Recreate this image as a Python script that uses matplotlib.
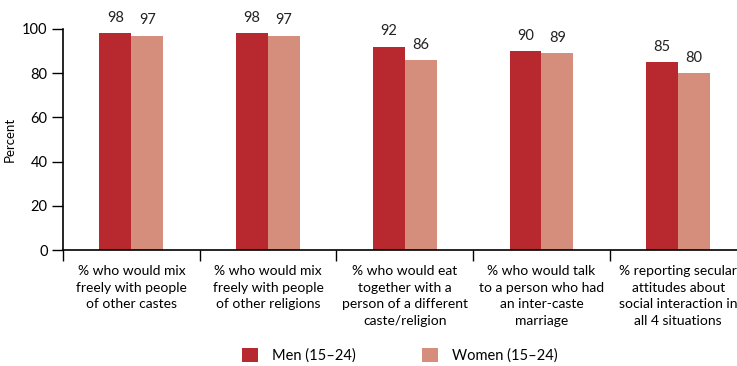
import numpy as np
import matplotlib.pyplot as plt

# Datos del grafico
categorias = [
    "% who would mix\nfreely with people\nof other castes",
    "% who would mix\nfreely with people\nof other religions",
    "% who would eat\ntogether with a\nperson of a different\ncaste/religion",
    "% who would talk\nto a person who had\nan inter-caste\nmarriage",
    "% reporting secular\nattitudes about\nsocial interaction in\nall 4 situations",
]
hombres = [98, 98, 92, 90, 85]
mujeres = [97, 97, 86, 89, 80]
yticks = [0, 20, 40, 60, 80, 100]

color_h = '#B8282F'
color_m = '#D68E7C'

plt.rcParams['font.family'] = ['Lato', 'DejaVu Sans']

fig = plt.figure(figsize=(7.37, 3.66), dpi=100)
ax = fig.add_axes([63 / 737, 1 - 250 / 366, 1 - 63 / 737, (250 - 29) / 366])

x = np.arange(len(categorias))
w = 0.234
b1 = ax.bar(x - w / 2, hombres, w, color=color_h, label='Men (15–24)')
b2 = ax.bar(x + w / 2, mujeres, w, color=color_m, label='Women (15–24)')

for barras in (b1, b2):
    for b in barras:
        ax.annotate(f'{b.get_height():.0f}', (b.get_x() + b.get_width() / 2, b.get_height()),
                    xytext=(0, 6), textcoords='offset points', ha='center', va='bottom',
                    fontsize=10.5, color='#222222', annotation_clip=False)

ax.set_ylim(0, 100)
ax.set_xlim(-0.5, 4.43)
ax.set_yticks(yticks)
ax.tick_params(axis='y', length=8, width=1, labelsize=10.5, pad=3)

# separadores entre grupos como ticks mayores, etiquetas en los menores
ax.set_xticks(np.arange(-0.5, 4.5, 1.0))
ax.set_xticklabels([])
ax.tick_params(axis='x', which='major', length=8, width=1)
ax.set_xticks(x, minor=True)
ax.set_xticklabels(categorias, minor=True, fontsize=10, linespacing=1.45)
ax.tick_params(axis='x', which='minor', length=0, pad=11)

for s in ['top', 'right']:
    ax.spines[s].set_visible(False)
ax.spines['left'].set_linewidth(1.2)
ax.spines['bottom'].set_linewidth(1.2)

ax.set_ylabel('Percent', fontsize=9.5)
ax.yaxis.set_label_coords(-0.07, 0.5)

ax.legend(handles=[b1, b2], loc='lower center', bbox_to_anchor=(0.5, -0.57), ncol=2,
          frameon=False, fontsize=10.5, handlelength=1.1, handleheight=1.1,
          columnspacing=4.5, handletextpad=1.0)

fig.savefig('out.png', dpi=100)
